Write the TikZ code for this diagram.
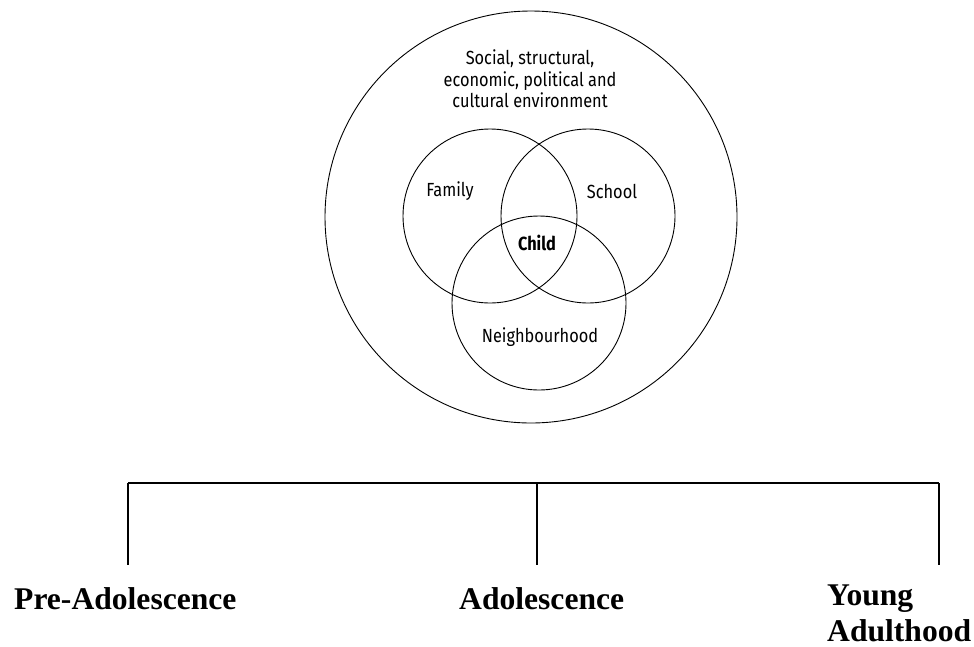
\documentclass[tikz,border=0pt]{standalone}
\usepackage{fontspec}
\setmainfont{Liberation Serif}
\newfontfamily\envfont[FakeStretch=0.86]{Fira Sans}
\begin{document}
\begin{tikzpicture}[x=1pt,y=-1pt,
    ring/.style={draw,circle,line width=0.9pt,inner sep=0pt},
    envtext/.style={font=\envfont\fontsize{19}{21.5}\selectfont,align=center,inner sep=0pt},
    stage/.style={font=\bfseries\fontsize{31.6}{36}\selectfont,align=left,inner sep=0pt,anchor=base west}]
  \useasboundingbox (0,0) rectangle (974,646);
  \node[ring,minimum size=412pt] (env) at (531,217) {};
  \node[ring,minimum size=174pt] (family) at (490,216) {};
  \node[ring,minimum size=174pt] (school) at (588,216) {};
  \node[ring,minimum size=174pt] (hood) at (539,303) {};
  \node[envtext] (envlabel) at (530,79) {Social, structural,\\economic, political and\\cultural environment};
  \node[envtext] (familylabel) at (450,191) {Family};
  \node[envtext] (schoollabel) at (612,191) {School};
  \node[envtext,font=\envfont\bfseries\fontsize{19}{21.5}\selectfont] (childlabel) at (537,243) {Child};
  \node[envtext] (hoodlabel) at (540,337) {Neighbourhood};
  \coordinate (pretop) at (128,483);
  \coordinate (adotop) at (537,483);
  \coordinate (youngtop) at (939,483);
  \coordinate (preend) at (128,565);
  \coordinate (adoend) at (537,565);
  \coordinate (youngend) at (939,565);
  \draw[line width=1.4pt] (pretop) -- (youngtop);
  \draw[line width=1.4pt] (pretop) -- (preend);
  \draw[line width=1.4pt] (adotop) -- (adoend);
  \draw[line width=1.4pt] (youngtop) -- (youngend);
  \node[stage] (pre) at (14,609) {Pre-Adolescence};
  \node[stage] (ado) at (459,609) {Adolescence};
  \node[stage] (young) at (827,641) {Young\\Adulthood};
\end{tikzpicture}
\end{document}
